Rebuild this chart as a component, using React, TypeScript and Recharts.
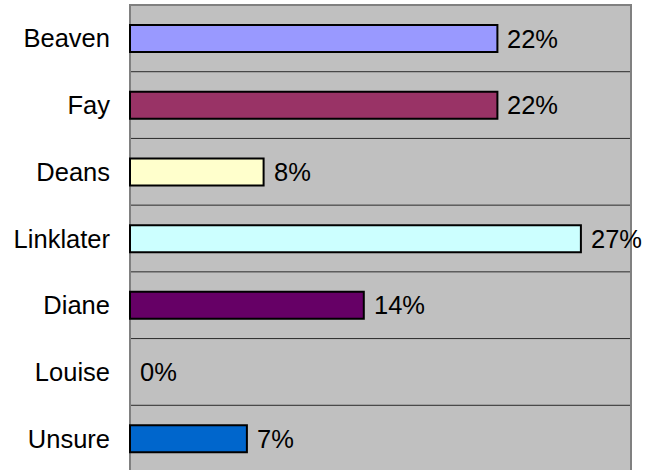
import React from "react";
import { BarChart, Bar, XAxis, YAxis, CartesianGrid, Cell, LabelList, ReferenceArea } from "recharts";

const names = ["Beaven", "Fay", "Deans", "Linklater", "Diane", "Louise", "Unsure"];
const shares = [22, 22, 8, 27, 14, 0, 7];
const colors = ["#9999FF", "#993366", "#FFFFCC", "#CCFFFF", "#660066", "#FF8080", "#0066CC"];

const data = names.map((name, i) => ({ name, value: shares[i] }));

const FONT = "'Liberation Sans', Arial, sans-serif";
const FONT_SIZE = 25.5;

// draw the value label to the right of the bar, also when the bar has no width
const renderValue = (props: any) => {
  const { x, y, width, height, value } = props;
  return (
    <text
      x={Number(x) + Math.round(Number(width || 0)) + 10}
      y={Number(y) + Number(height) / 2}
      dominantBaseline="central"
      fill="#000"
      fontSize={FONT_SIZE}
      fontFamily={FONT}
    >
      {`${value}%`}
    </text>
  );
};

export default function App() {
  return (
    <div style={{ position: "absolute", left: 0, top: 0, width: 648, height: 470, overflow: "hidden", background: "#fff" }}>
      <BarChart
        width={648}
        height={476}
        data={data}
        layout="vertical"
        margin={{ top: 5, right: 17, bottom: 4, left: 0 }}
        barSize={27}
      >
        <CartesianGrid
          vertical={false}
          fill="#C0C0C0"
          stroke="#2a2a2a"
          strokeWidth={1}
          horizontalCoordinatesGenerator={({ offset }: any) =>
            names.slice(1).map((_, i) => offset.top + ((i + 1) * offset.height) / names.length)
          }
        />
        <XAxis type="number" domain={[0, 30]} hide />
        <YAxis
          type="category"
          dataKey="name"
          width={130}
          axisLine={false}
          tickLine={false}
          tickSize={0}
          tickMargin={20}
          tick={{ fill: "#000", fontSize: FONT_SIZE, fontFamily: FONT }}
        />
        <ReferenceArea x1={0} x2={30} fill="none" stroke="#808080" strokeWidth={2} ifOverflow="visible" />
        <Bar
          dataKey="value"
          strokeWidth={2}
          minPointSize={(v: any) => (Number(v) === 0 ? 0.01 : 0)}
          isAnimationActive={false}
        >
          {data.map((d, i) => (
            <Cell key={d.name} fill={d.value > 0 ? colors[i] : "none"} stroke={d.value > 0 ? "#000" : "none"} />
          ))}
          <LabelList dataKey="value" content={renderValue} />
        </Bar>
      </BarChart>
    </div>
  );
}
